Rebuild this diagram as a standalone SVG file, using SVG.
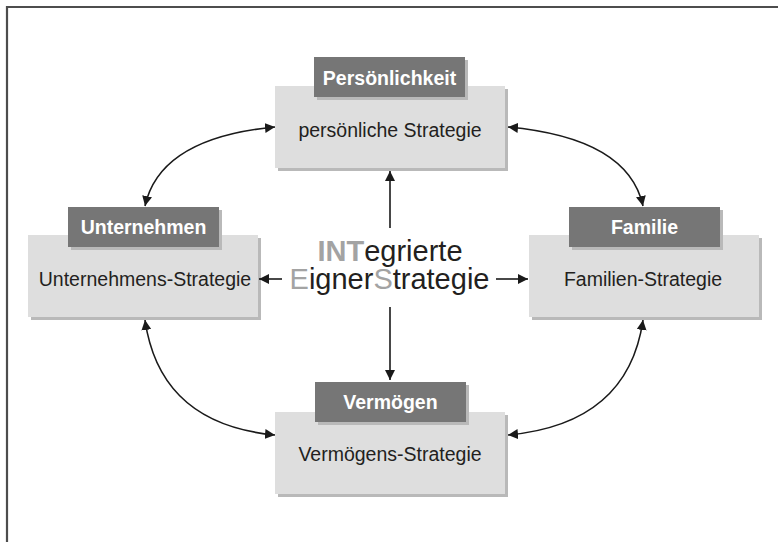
<svg xmlns="http://www.w3.org/2000/svg" width="778" height="542" viewBox="0 0 778 542">
<style>
.shadow{fill:#b9b9b9}
.body{fill:#dedede}
.label{fill:#767676}
.ltext{font-family:"Liberation Sans",Arial,sans-serif;font-size:19.5px;font-weight:bold;fill:#ffffff;text-anchor:middle}
.btext{font-family:"Liberation Sans",Arial,sans-serif;font-size:19.5px;fill:#231f20;text-anchor:middle}
.ctext{font-family:"Liberation Sans",Arial,sans-serif;font-size:29px;fill:#231f20;text-anchor:middle}
.hl{fill:#a3a3a3}
.conn{fill:none;stroke:#1a1a1a;stroke-width:1.6}
</style>
<defs>
<marker id="ah" viewBox="0 0 10 10" refX="10" refY="5" markerWidth="10" markerHeight="10" markerUnits="userSpaceOnUse" orient="auto-start-reverse">
<path d="M0,0 L10,5 L0,10 z" fill="#1a1a1a"/>
</marker>
</defs>
<rect x="0" y="0" width="778" height="542" fill="#ffffff"/>
<path d="M7,542 V7 H778" fill="none" stroke="#4d4d4d" stroke-width="2.2"/>

<g id="persoenlichkeit">
<rect class="shadow" x="278" y="89" width="230" height="82"/>
<rect class="body" x="275" y="86" width="230" height="82"/>
<rect class="shadow" x="317" y="60" width="151" height="40"/>
<rect class="label" x="314" y="57" width="151" height="40"/>
<text class="ltext" x="389.5" y="84.5">Persönlichkeit</text>
<text class="btext" x="390" y="136.5">persönliche Strategie</text>
</g>

<g id="unternehmen">
<rect class="shadow" x="31" y="238" width="230" height="82"/>
<rect class="body" x="28" y="235" width="230" height="82"/>
<rect class="shadow" x="71" y="210" width="151" height="40"/>
<rect class="label" x="68" y="207" width="151" height="40"/>
<text class="ltext" x="143.5" y="233.5">Unternehmen</text>
<text class="btext" x="145" y="285.5">Unternehmens-Strategie</text>
</g>

<g id="familie">
<rect class="shadow" x="532" y="238" width="230" height="82"/>
<rect class="body" x="529" y="235" width="230" height="82"/>
<rect class="shadow" x="572" y="210" width="151" height="40"/>
<rect class="label" x="569" y="207" width="151" height="40"/>
<text class="ltext" x="644.5" y="233.5">Familie</text>
<text class="btext" x="643" y="285.5">Familien-Strategie</text>
</g>

<g id="vermoegen">
<rect class="shadow" x="278" y="415" width="230" height="82"/>
<rect class="body" x="275" y="412" width="230" height="82"/>
<rect class="shadow" x="318" y="385" width="151" height="40"/>
<rect class="label" x="315" y="382" width="151" height="40"/>
<text class="ltext" x="390.5" y="408.5">Vermögen</text>
<text class="btext" x="390" y="460.5">Vermögens-Strategie</text>
</g>

<g id="integrierte-eignerstrategie">
<text class="ctext" x="390" y="260.5"><tspan class="hl" font-weight="bold">INT</tspan>egrierte</text>
<text class="ctext" x="389.5" y="288.5"><tspan class="hl">E</tspan>igner<tspan class="hl">S</tspan>trategie</text>
</g>

<g id="connectors">
<path class="conn" d="M390,228 V171" marker-end="url(#ah)"/>
<path class="conn" d="M390,307 V380" marker-end="url(#ah)"/>
<path class="conn" d="M282,279 H259" marker-end="url(#ah)"/>
<path class="conn" d="M496,279 H528" marker-end="url(#ah)"/>
<path class="conn" d="M145,206 Q160,138 275,127" marker-start="url(#ah)" marker-end="url(#ah)"/>
<path class="conn" d="M643,206 Q628,138 508,127" marker-start="url(#ah)" marker-end="url(#ah)"/>
<path class="conn" d="M145,320 Q160,424 275,435" marker-start="url(#ah)" marker-end="url(#ah)"/>
<path class="conn" d="M643,320 Q628,424 508,435" marker-start="url(#ah)" marker-end="url(#ah)"/>
</g>
</svg>
